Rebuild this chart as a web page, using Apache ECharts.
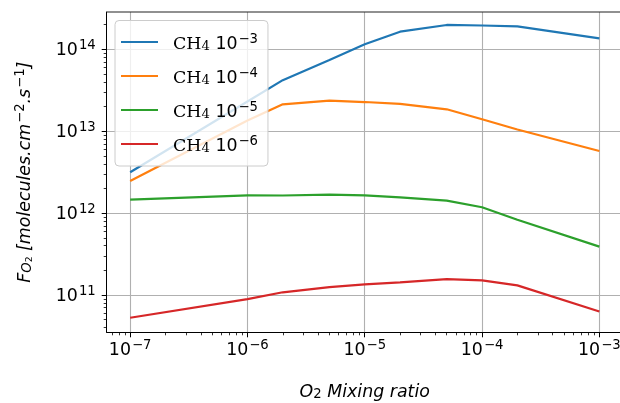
<!DOCTYPE html>
<html>
<head>
<meta charset="utf-8">
<script src="https://cdn.jsdelivr.net/npm/echarts@6/dist/echarts.min.js"></script>
<style>
html,body{margin:0;padding:0;background:#fff;overflow:hidden;width:620px;height:403px;}
#chart{width:640px;height:403px;}
</style>
</head>
<body>
<div id="chart"></div>
<script>
// ---- data ----
const o2Mixing = [1e-7, 1e-6, 2e-6, 5e-6, 1e-5, 2e-5, 5e-5, 1e-4, 2e-4, 1e-3];
const seriesNames = ['CH4 10^-3', 'CH4 10^-4', 'CH4 10^-5', 'CH4 10^-6'];
const ch4_1e3 = [3.15e12, 2.3e13, 4.2e13, 7.4e13, 1.15e14, 1.64e14, 1.98e14, 1.95e14, 1.9e14, 1.36e14];
const ch4_1e4 = [2.47e12, 1.35e13, 2.13e13, 2.36e13, 2.27e13, 2.15e13, 1.85e13, 1.40e13, 1.05e13, 5.73e12];
const ch4_1e5 = [1.46e12, 1.65e12, 1.64e12, 1.68e12, 1.65e12, 1.56e12, 1.42e12, 1.18e12, 8.3e11, 3.9e11];
const ch4_1e6 = [5.28e10, 8.9e10, 1.08e11, 1.25e11, 1.35e11, 1.43e11, 1.56e11, 1.51e11, 1.31e11, 6.3e10];
const xMajorTicks = [1e-7, 1e-6, 1e-5, 1e-4, 1e-3];
const yMajorTicks = [1e11, 1e12, 1e13, 1e14];

// ---- style ----
const colors = ['#1f77b4', '#ff7f0e', '#2ca02c', '#d62728'];
const FS = 17.4;
const SUP = 13.2;
const XMIN = Math.pow(10, -7.2), XMAX = Math.pow(10, -2.8);
const YMIN = Math.pow(10, 10.545), YMAX = Math.pow(10, 14.455);

function minorValues(lo, hi) {
  const out = [];
  for (let e = lo; e <= hi; e++) {
    for (let m = 2; m <= 9; m++) out.push(m * Math.pow(10, e));
  }
  return out;
}
const xMinorTicks = minorValues(-8, -3);
const yMinorTicks = minorValues(10, 14);

const powRich = {
  b: {fontFamily: 'DejaVu Sans', fontSize: FS, lineHeight: 20, verticalAlign: 'bottom', color: '#000'},
  s: {fontFamily: 'DejaVu Sans', fontSize: SUP, lineHeight: 20, verticalAlign: 'bottom', padding: [0, 0, 7, 1], color: '#000'}
};
function powLabel(v) {
  const e = Math.round(Math.log10(v));
  const es = e < 0 ? '\u2212' + (-e) : String(e);
  return '{b|10}{s|' + es + '}';
}

const data = [ch4_1e3, ch4_1e4, ch4_1e5, ch4_1e6];
const series = seriesNames.map((n, i) => ({
  name: n,
  type: 'line',
  xAxisIndex: 0,
  yAxisIndex: 0,
  symbol: 'none',
  data: o2Mixing.map((x, j) => [x, data[i][j]]),
  lineStyle: {color: colors[i], width: 2.2},
  itemStyle: {color: colors[i]},
  z: 3
}));

const chart = echarts.init(document.getElementById('chart'), null, {renderer: 'canvas', width: 640, height: 403});
chart.setOption({
  animation: false,
  backgroundColor: '#fff',
  color: colors,
  grid: {left: 106.7, top: 12, width: 516.1, height: 320.3, show: false,
         containLabel: false, outerBoundsMode: 'none'},
  legend: {
    orient: 'vertical',
    left: 115, top: 20.5,
    padding: [12.5, 10, 11, 6],
    itemGap: 14,
    itemWidth: 37, itemHeight: 2.2,
    icon: 'rect',
    backgroundColor: 'rgba(255,255,255,0.8)',
    borderColor: '#cccccc', borderWidth: 1, borderRadius: 4,
    data: seriesNames,
    formatter: function (name) {
      const p = name.split(' ')[1].split('^')[1].replace('-', '\u2212');
      return '{rm|CH}{rsub|4}{sp| }{b|10}{s|' + p + '}';
    },
    textStyle: {
      padding: [0, 0, 0, 10],
      rich: {
        rm: {fontFamily: 'DejaVu Serif', fontSize: FS, lineHeight: 22, verticalAlign: 'bottom', color: '#000'},
        rsub: {fontFamily: 'DejaVu Serif', fontSize: SUP, lineHeight: 22, verticalAlign: 'bottom', padding: [4, 0, 0, 0], color: '#000'},
        sp: {fontFamily: 'DejaVu Sans', fontSize: FS, lineHeight: 22, verticalAlign: 'bottom'},
        b: {fontFamily: 'DejaVu Sans', fontSize: FS, lineHeight: 22, verticalAlign: 'bottom', color: '#000'},
        s: {fontFamily: 'DejaVu Sans', fontSize: SUP, lineHeight: 22, verticalAlign: 'bottom', padding: [0, 0, 7, 1], color: '#000'}
      }
    }
  },
  xAxis: [{
    type: 'log', gridIndex: 0, position: 'bottom', min: XMIN, max: XMAX,
    axisLine: {show: true, onZero: false, lineStyle: {color: '#000', width: 1}},
    axisTick: {show: true, customValues: xMajorTicks, length: 5, lineStyle: {color: '#000', width: 1}},
    axisLabel: {show: true, customValues: xMajorTicks, margin: 7, formatter: powLabel, rich: powRich},
    splitLine: {show: true, customValues: xMajorTicks, lineStyle: {color: '#b0b0b0', width: 1.1}},
    minorTick: {show: false}, minorSplitLine: {show: false},
    name: '{i|O}{sub|2}{i| Mixing ratio}',
    nameLocation: 'middle', nameGap: 47,
    nameTextStyle: {
      rich: {
        i: {fontFamily: 'DejaVu Sans', fontStyle: 'italic', fontSize: FS, lineHeight: 22, verticalAlign: 'bottom', color: '#000'},
        sub: {fontFamily: 'DejaVu Sans', fontSize: SUP, lineHeight: 22, verticalAlign: 'bottom', padding: [4, 0, 0, 0], color: '#000'}
      }
    }
  }, {
    type: 'log', gridIndex: 0, position: 'bottom', min: XMIN, max: XMAX,
    axisLine: {show: false},
    axisTick: {show: true, customValues: xMinorTicks, length: 3, lineStyle: {color: '#000', width: 0.8}},
    axisLabel: {show: false},
    splitLine: {show: false}
  }],
  yAxis: [{
    type: 'log', gridIndex: 0, position: 'left', min: YMIN, max: YMAX,
    axisLine: {show: true, onZero: false, lineStyle: {color: '#000', width: 1}},
    axisTick: {show: true, customValues: yMajorTicks, length: 5, lineStyle: {color: '#000', width: 1}},
    axisLabel: {show: true, customValues: yMajorTicks, margin: 11, formatter: powLabel, rich: powRich},
    splitLine: {show: true, customValues: yMajorTicks, lineStyle: {color: '#b0b0b0', width: 1.1}},
    minorTick: {show: false}, minorSplitLine: {show: false},
    name: '{i|F}{sub|O}{sub2|2}{i| [molecules.cm}{sup|\u22122}{i|.s}{sup|\u22121}{i|]}',
    nameLocation: 'middle', nameGap: 73, nameRotate: 90,
    nameTextStyle: {
      rich: {
        i: {fontFamily: 'DejaVu Sans', fontStyle: 'italic', fontSize: FS, lineHeight: 22, verticalAlign: 'bottom', color: '#000'},
        sub: {fontFamily: 'DejaVu Sans', fontStyle: 'italic', fontSize: SUP, lineHeight: 22, verticalAlign: 'bottom', padding: [4, 0, 0, 0], color: '#000'},
        sub2: {fontFamily: 'DejaVu Sans', fontSize: 9.2, lineHeight: 22, verticalAlign: 'bottom', padding: [7, 0, 0, 0], color: '#000'},
        sup: {fontFamily: 'DejaVu Sans', fontSize: SUP, lineHeight: 22, verticalAlign: 'bottom', padding: [0, 0, 7, 1], color: '#000'}
      }
    }
  }, {
    type: 'log', gridIndex: 0, position: 'left', min: YMIN, max: YMAX,
    axisLine: {show: false},
    axisTick: {show: true, customValues: yMinorTicks, length: 3, lineStyle: {color: '#000', width: 0.8}},
    axisLabel: {show: false},
    splitLine: {show: false}
  }],
  series: series
});

// top spine of the axes frame, placed through the grid's own coordinate conversion
const pTL = chart.convertToPixel({gridIndex: 0}, [XMIN, YMAX]);
const pTR = chart.convertToPixel({gridIndex: 0}, [XMAX, YMAX]);
chart.setOption({
  graphic: [{
    type: 'line', z: 10, silent: true,
    shape: {x1: pTL[0], y1: pTL[1], x2: pTR[0], y2: pTR[1]},
    style: {stroke: '#222', lineWidth: 1.2}
  }]
});
</script>
</body>
</html>
